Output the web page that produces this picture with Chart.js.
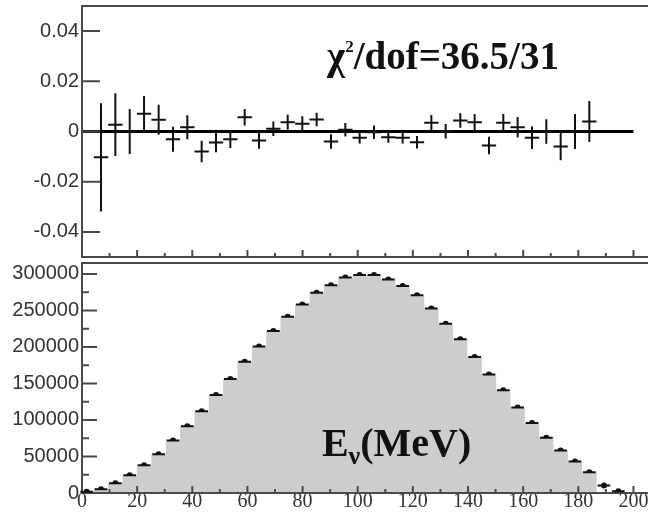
<!DOCTYPE html>
<html>
<head>
<meta charset="utf-8">
<script src="https://cdn.jsdelivr.net/npm/chart.js@4.4.0/dist/chart.umd.min.js"></script>
<style>
  html, body { margin: 0; padding: 0; background: #fff; overflow: hidden; }
  #wrap { position: relative; width: 648px; height: 517px; overflow: hidden; }
  #topChart { position: absolute; left: 0; top: 0; }
  #botChart { position: absolute; left: 0; top: 259px; }
</style>
</head>
<body>
<div id="wrap">
  <canvas id="topChart" width="670" height="259"></canvas>
  <canvas id="botChart" width="670" height="258"></canvas>
</div>
<script>
/* E_nu spectrum: data vs MC, with residuals on top */

const binCenters = [1.7, 6.9, 12.1, 17.3, 22.5, 27.8, 33.0, 38.2, 43.4, 48.6,
                    53.8, 59.0, 64.2, 69.4, 74.6, 79.9, 85.1, 90.3, 95.5, 100.7,
                    105.9, 111.1, 116.3, 121.5, 126.7, 131.9, 137.2, 142.4, 147.6, 152.8,
                    158.0, 163.2, 168.4, 173.6, 178.8, 184.0, 189.3, 194.5];

const dataCounts = [1800, 5000, 13200, 24400, 38000, 52900, 71900, 91300, 112100, 134200,
                    156300, 179900, 200700, 222000, 241400, 258000, 274300, 284400, 295200, 298700,
                    298700, 292500, 283400, 270800, 252600, 231900, 210600, 186200, 162300, 140600,
                    117000, 95900, 75500, 58300, 43000, 28500, 10400, 2300];

const mcCounts   = [1800, 5000, 13200, 24400, 38000, 52900, 71900, 91300, 112100, 134200,
                    156300, 179900, 200700, 222000, 241400, 258000, 274300, 284400, 295200, 298700,
                    298700, 292500, 283400, 270800, 252600, 231900, 210600, 186200, 162300, 140600,
                    117000, 95900, 75500, 58300, 43000, 28500, 0, 0];

// residuals exist for bins 2..36
const residualBins   = binCenters.slice(1, 36);
const residuals      = [-0.0103, 0.0027, 0.0000, 0.0071, 0.0047, -0.0031, 0.0017, -0.0080, -0.0044, -0.0031,
                        0.0057, -0.0036, 0.0011, 0.0037, 0.0031, 0.0048, -0.0040, 0.0007, -0.0025, -0.0003,
                        -0.0023, -0.0025, -0.0043, 0.0035, 0.0001, 0.0044, 0.0037, -0.0056, 0.0035, 0.0017,
                        -0.0025, 0.0000, -0.0060, 0.0000, 0.0040];
const residualErrors = [0.0216, 0.0125, 0.0090, 0.0070, 0.0060, 0.0050, 0.0048, 0.0043, 0.0039, 0.0035,
                        0.0033, 0.0033, 0.0029, 0.0030, 0.0030, 0.0027, 0.0029, 0.0027, 0.0023, 0.0027,
                        0.0022, 0.0023, 0.0025, 0.0031, 0.0029, 0.0029, 0.0033, 0.0035, 0.0035, 0.0041,
                        0.0045, 0.0049, 0.0055, 0.0070, 0.0082];
const zeroLineX = [0, 200];

const xTicks       = [0, 20, 40, 60, 80, 100, 120, 140, 160, 180, 200];
const xMinorTicks  = [10, 30, 50, 70, 90, 110, 130, 150, 170, 190];
const yTicksTop    = [-0.04, -0.02, 0, 0.02, 0.04];
const yTicksBottom = [0, 50000, 100000, 150000, 200000, 250000, 300000];
const yMinorBottom = [25000, 75000, 125000, 175000, 225000, 275000];

const FRAME_COL = '#4a4a4a';
const TICK_FONT = { family: 'Liberation Sans', size: 20 };
const SERIF = 'Liberation Serif';

/* inward ROOT-style ticks and the frame */
const rootFrame = {
  id: 'rootFrame',
  afterDatasetsDraw(chart, args, o) {
    const { ctx, chartArea: a, scales: { x, y } } = chart;
    ctx.save();
    ctx.strokeStyle = FRAME_COL;
    ctx.lineWidth = 2;
    ctx.beginPath();
    ctx.moveTo(a.right + 5, a.top);
    ctx.lineTo(a.left, a.top);
    ctx.lineTo(a.left, a.bottom);
    ctx.lineTo(a.right + 5, a.bottom);
    const yTick = (v, len) => {
      const py = y.getPixelForValue(v);
      ctx.moveTo(a.left, py); ctx.lineTo(a.left + len, py);
    };
    const xTick = (v, len) => {
      const px = x.getPixelForValue(v);
      ctx.moveTo(px, a.bottom); ctx.lineTo(px, a.bottom - len);
    };
    o.yMajor.forEach(v => yTick(v, o.yMajorLen));
    (o.yMinor || []).forEach(v => yTick(v, o.yMinorLen));
    xTicks.forEach(v => xTick(v, 7));
    xMinorTicks.forEach(v => xTick(v, 4));
    ctx.stroke();
    ctx.restore();
  }
};

/* crosses: x half-width bar + optional y error */
const errorBars = {
  id: 'errorBars',
  afterDatasetsDraw(chart) {
    const { ctx, scales: { x, y } } = chart;
    chart.data.datasets.forEach(ds => {
      if (!ds._xHalf) return;
      ctx.save();
      ctx.strokeStyle = '#111';
      ctx.lineWidth = 2;
      ctx.beginPath();
      ds.data.forEach(p => {
        const px = x.getPixelForValue(p.x);
        const py = y.getPixelForValue(p.y);
        ctx.moveTo(x.getPixelForValue(p.x - ds._xHalf), py);
        ctx.lineTo(x.getPixelForValue(p.x + ds._xHalf), py);
        if (p.err) {
          ctx.moveTo(px, y.getPixelForValue(p.y + p.err));
          ctx.lineTo(px, y.getPixelForValue(p.y - p.err));
        }
      });
      ctx.stroke();
      ctx.restore();
    });
  }
};

/* big bold serif labels with super/subscripts */
const panelText = {
  id: 'panelText',
  afterDraw(chart, args, o) {
    const { ctx, scales: { x, y } } = chart;
    let px = x.getPixelForValue(o.x);
    const py = y.getPixelForValue(o.y);
    ctx.save();
    ctx.fillStyle = '#111';
    ctx.textBaseline = 'alphabetic';
    o.parts.forEach(([txt, size, dy]) => {
      ctx.font = `bold ${size}px "${SERIF}"`;
      ctx.fillText(txt, px, py + dy);
      px += ctx.measureText(txt).width;
    });
    ctx.restore();
  }
};

// chart.js reserves half a label above/below each axis; we place the area by hand
function noPad(s) {
  s.paddingTop = 0; s.paddingBottom = 0; s.paddingLeft = 0; s.paddingRight = 0;
}

function xScale(showLabels, h) {
  return {
    type: 'linear', min: 0, max: 206,
    grid: { display: false, drawTicks: false },
    border: { display: false },
    afterBuildTicks: s => { s.ticks = xTicks.map(v => ({ value: v })); },
    afterFit: s => { s.height = h; noPad(s); },
    ticks: {
      display: showLabels, autoSkip: false, maxRotation: 0, padding: -3,
      color: '#333', font: { family: SERIF, size: 20 },
      callback: v => String(v),
    },
  };
}

function yScale(min, max, ticks) {
  return {
    min, max,
    grid: { display: false, drawTicks: false },
    border: { display: false },
    afterBuildTicks: s => { s.ticks = ticks.map(v => ({ value: v })); },
    afterFit: s => { s.width = 82; noPad(s); },
    ticks: { padding: 3, color: '#333', font: TICK_FONT, callback: v => String(v) },
  };
}

new Chart(document.getElementById('topChart'), {
  type: 'scatter',
  data: {
    datasets: [
      {
        type: 'line',
        data: zeroLineX.map(v => ({ x: v, y: 0 })),
        borderColor: '#000', borderWidth: 3, pointRadius: 0,
      },
      {
        data: residualBins.map((b, i) => ({ x: b, y: residuals[i], err: residualErrors[i] })),
        pointRadius: 0, showLine: false,
        _xHalf: 2.6,
      },
    ],
  },
  options: {
    responsive: false, animation: false,
    layout: { padding: { top: 6, right: 20, left: 0, bottom: 0 } },
    plugins: {
      legend: { display: false }, tooltip: { enabled: false },
      rootFrame: { yMajor: yTicksTop, yMajorLen: 18 },
      panelText: { x: 88.9, y: 0.0250,
                   parts: [['χ', 39, 0], ['2', 17, -17], ['/dof=36.5/31', 39, 0]] },
    },
    scales: { x: xScale(false, 2), y: yScale(-0.05, 0.05, yTicksTop) },
  },
  plugins: [rootFrame, errorBars, panelText],
});

new Chart(document.getElementById('botChart'), {
  type: 'scatter',
  data: {
    datasets: [
      {
        type: 'line',
        data: binCenters.map((b, i) => ({ x: b, y: mcCounts[i] })),
        stepped: 'middle', fill: 'origin',
        backgroundColor: 'rgb(205,205,205)', borderWidth: 0, pointRadius: 0,
      },
      {
        data: binCenters.map((b, i) => ({ x: b, y: dataCounts[i] })),
        pointRadius: 3, pointBackgroundColor: '#111', pointBorderWidth: 0,
        _xHalf: 2.3,
      },
    ],
  },
  options: {
    responsive: false, animation: false,
    layout: { padding: { top: 2, right: 20, left: 0, bottom: 0 } },
    plugins: {
      legend: { display: false }, tooltip: { enabled: false },
      rootFrame: { yMajor: yTicksBottom, yMajorLen: 15, yMinor: yMinorBottom, yMinorLen: 7 },
      panelText: { x: 87, y: 50200, parts: [['E', 40, 0], ['ν', 26, 8], ['(MeV)', 40, 0]] },
    },
    scales: { x: xScale(true, 24), y: yScale(0, 315000, yTicksBottom) },
  },
  plugins: [rootFrame, errorBars, panelText],
});
</script>
</body>
</html>
